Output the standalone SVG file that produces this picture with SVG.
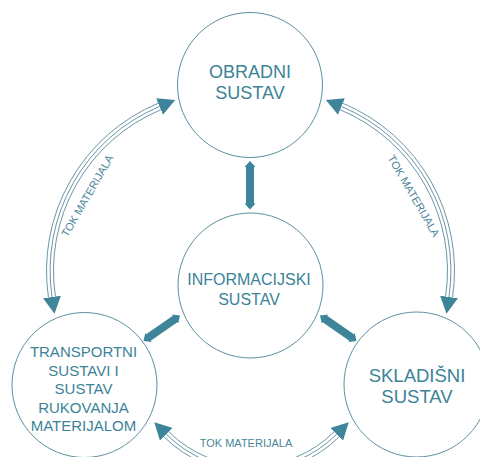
<svg xmlns="http://www.w3.org/2000/svg" width="480" height="457" viewBox="0 0 480 457">
<style>
.node circle{fill:#fff;stroke:#5d8fa0;stroke-width:1}
.lbl{font-family:"Liberation Sans",Arial,sans-serif;fill:#3b8397;text-anchor:middle}
.flow{fill:none;stroke:#6a96a5;stroke-width:1}
.fat{fill:#3f8599}
.small{font-family:"Liberation Sans",Arial,sans-serif;fill:#4a8597;font-size:11px;text-anchor:middle}
</style>
<defs>
<marker id="ah" viewBox="0 0 17 18" markerWidth="17" markerHeight="18" refX="0" refY="9" orient="auto-start-reverse" markerUnits="userSpaceOnUse">
<path d="M0,0 L17,9 L0,18 Z" fill="#3f8599"/>
</marker>
<path id="dbl" d="M -22.25 0 L -16.25 -5.5 L -16.25 -4 L 16.25 -4 L 16.25 -5.5 L 22.25 0 L 16.25 5.5 L 16.25 4 L -16.25 4 L -16.25 5.5 Z"/>
</defs>
<rect width="480" height="457" fill="#fff"/>
<g id="node-obradni" class="node">
<circle cx="250" cy="85" r="72.5"/>
<text class="lbl" font-size="18" x="250" y="77.5">OBRADNI</text>
<text class="lbl" font-size="18" x="250" y="98.5">SUSTAV</text>
</g>
<g id="node-informacijski" class="node">
<circle cx="250.5" cy="285.5" r="72.5"/>
<text class="lbl" font-size="16" x="249" y="285">INFORMACIJSKI</text>
<text class="lbl" font-size="16" x="249" y="305">SUSTAV</text>
</g>
<g id="node-transportni" class="node">
<circle cx="84.5" cy="385" r="72.5"/>
<text class="lbl" font-size="15" x="83.5" y="357">TRANSPORTNI</text>
<text class="lbl" font-size="15" x="83.5" y="375.5">SUSTAVI I</text>
<text class="lbl" font-size="15" x="83.5" y="394">SUSTAV</text>
<text class="lbl" font-size="15" x="83.5" y="412.5">RUKOVANJA</text>
<text class="lbl" font-size="15" x="83.5" y="431">MATERIJALOM</text>
</g>
<g id="node-skladisni" class="node">
<circle cx="416.5" cy="384.5" r="72.5"/>
<text class="lbl" font-size="18.5" x="417" y="381.7">SKLADIŠNI</text>
<text class="lbl" font-size="18.5" x="417" y="402.7">SUSTAV</text>
</g>
<g id="connectors">
<!-- left arc -->
<path class="flow" d="M 55.40 296.50 A 174.5 174.5 0 0 1 160.85 109.74"/>
<path class="flow" d="M 52 297 A 178 178 0 0 1 159.5 106.5" marker-start="url(#ah)" marker-end="url(#ah)"/>
<path class="flow" d="M 48.48 297.53 A 181.5 181.5 0 0 1 158.16 103.28"/>
<text class="small" transform="translate(90.6 197.8) rotate(-60)">TOK MATERIJALA</text>
<!-- right arc -->
<path class="flow" d="M 445.60 296.50 A 174.5 174.5 0 0 0 340.15 109.74"/>
<path class="flow" d="M 449 297 A 178 178 0 0 0 341.5 106.5" marker-start="url(#ah)" marker-end="url(#ah)"/>
<path class="flow" d="M 452.52 297.53 A 181.5 181.5 0 0 0 342.84 103.28"/>
<text class="small" transform="translate(410.4 197.8) rotate(60)">TOK MATERIJALA</text>
<!-- bottom arc -->
<path class="flow" d="M 168.77 431.73 A 117 117 0 0 0 334.23 431.73"/>
<path class="flow" d="M 166.29 434.21 A 120.5 120.5 0 0 0 336.71 434.21" marker-start="url(#ah)" marker-end="url(#ah)"/>
<path class="flow" d="M 163.82 436.68 A 124 124 0 0 0 339.18 436.68"/>
<text class="small" x="246" y="446.7">TOK MATERIJALA</text>
<!-- information arrows -->
<path class="fat" d="M 250 161 L 255.5 167 L 254 167 L 254 203.5 L 255.5 203.5 L 250 209.5 L 244.5 203.5 L 246 203.5 L 246 167 L 244.5 167 Z"/>
<use href="#dbl" class="fat" transform="translate(161.75 328.25) rotate(-34.9)"/>
<use href="#dbl" class="fat" transform="translate(338.25 328.25) rotate(34.9)"/>
</g>
</svg>
